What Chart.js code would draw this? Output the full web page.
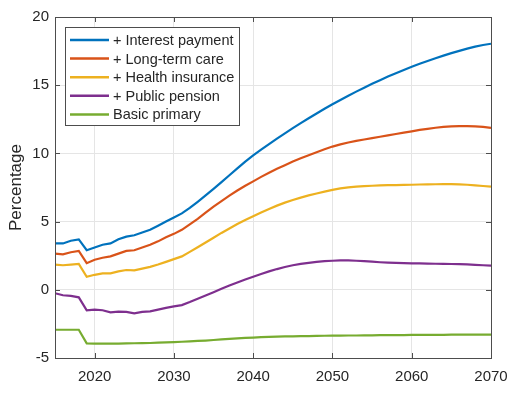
<!DOCTYPE html>
<html>
<head>
<meta charset="utf-8">
<script src="https://cdn.jsdelivr.net/npm/chart.js@4.4.1/dist/chart.umd.min.js"></script>
<style>
  html, body { margin: 0; padding: 0; background: #fff; }
  #wrap { width: 514px; height: 394px; position: relative; }
</style>
</head>
<body>
<div id="wrap"><canvas id="myChart" width="514" height="394"></canvas></div>
<script>
// Años y series (porcentaje)
const years = [];
for (let y = 2015; y <= 2070; y++) years.push(y);

const xTicks = [2020, 2030, 2040, 2050, 2060, 2070];
const yTicks = [-5, 0, 5, 10, 15, 20];

const seriesNames = ['+ Interest payment', '+ Long-term care', '+ Health insurance', '+ Public pension', 'Basic primary'];
const seriesColors = ['#0072BD', '#D95319', '#EDB120', '#7E2F8E', '#77AC30'];

const interestPayment = [3.4, 3.4, 3.6, 3.7, 2.9, 3.1, 3.3, 3.4, 3.7, 3.9,
  4.0, 4.2, 4.4, 4.7, 5.0, 5.3, 5.6, 6.0, 6.45, 6.92,
  7.4, 7.9, 8.4, 8.9, 9.4, 9.85, 10.27, 10.68, 11.08, 11.47,
  11.85, 12.22, 12.58, 12.93, 13.27, 13.6, 13.92, 14.23, 14.53, 14.82,
  15.1, 15.37, 15.63, 15.88, 16.12, 16.35, 16.57, 16.78, 16.98, 17.17,
  17.35, 17.52, 17.68, 17.83, 17.95, 18.04];

const longTermCare = [2.65, 2.6, 2.75, 2.85, 1.95, 2.2, 2.35, 2.45, 2.65, 2.85,
  2.9, 3.1, 3.3, 3.55, 3.85, 4.1, 4.4, 4.8, 5.2, 5.65,
  6.1, 6.5, 6.9, 7.28, 7.63, 7.95, 8.28, 8.58, 8.87, 9.14,
  9.4, 9.64, 9.87, 10.08, 10.3, 10.5, 10.66, 10.8, 10.92, 11.02,
  11.12, 11.22, 11.32, 11.42, 11.52, 11.62, 11.72, 11.8, 11.88, 11.94,
  11.98, 12.0, 12.0, 11.98, 11.94, 11.87];

const healthInsurance = [1.85, 1.8, 1.85, 1.9, 0.95, 1.1, 1.2, 1.2, 1.35, 1.45,
  1.42, 1.55, 1.68, 1.85, 2.05, 2.25, 2.45, 2.78, 3.12, 3.47,
  3.82, 4.17, 4.5, 4.82, 5.12, 5.4, 5.67, 5.93, 6.17, 6.39,
  6.58, 6.76, 6.92, 7.06, 7.2, 7.33, 7.43, 7.51, 7.56, 7.6,
  7.63, 7.65, 7.67, 7.68, 7.69, 7.7, 7.72, 7.73, 7.74, 7.75,
  7.75, 7.73, 7.7, 7.66, 7.61, 7.56];

const publicPension = [-0.25, -0.4, -0.45, -0.55, -1.5, -1.45, -1.5, -1.65, -1.6, -1.62,
  -1.72, -1.62, -1.58, -1.45, -1.32, -1.22, -1.12, -0.9, -0.65, -0.42,
  -0.18, 0.07, 0.31, 0.53, 0.75, 0.96, 1.16, 1.35, 1.52, 1.67,
  1.8, 1.9, 1.98, 2.05, 2.1, 2.13, 2.15, 2.15, 2.13, 2.1,
  2.06, 2.02, 1.99, 1.97, 1.95, 1.94, 1.93, 1.92, 1.91, 1.9,
  1.89, 1.88, 1.86, 1.83, 1.8, 1.77];

const basicPrimary = [-2.93, -2.93, -2.93, -2.93, -3.93, -3.95, -3.95, -3.95, -3.94, -3.93,
  -3.92, -3.91, -3.9, -3.88, -3.86, -3.84, -3.81, -3.78, -3.75, -3.72,
  -3.68, -3.64, -3.6, -3.56, -3.53, -3.5, -3.47, -3.45, -3.43, -3.42,
  -3.41, -3.4, -3.39, -3.38, -3.37, -3.36, -3.36, -3.35, -3.35, -3.34,
  -3.34, -3.33, -3.33, -3.32, -3.32, -3.31, -3.31, -3.3, -3.3, -3.3,
  -3.29, -3.29, -3.29, -3.28, -3.28, -3.28];

const seriesValues = [interestPayment, longTermCare, healthInsurance, publicPension, basicPrimary];

const FONT = "'Liberation Sans', Arial, sans-serif";
const AXIS_COLOR = '#4d4d4d';

// Caja del eje y marcas hacia adentro (estilo MATLAB)
const boxPlugin = {
  id: 'boxPlugin',
  afterDatasetsDraw(chart) {
    const { ctx, chartArea: a, scales } = chart;
    ctx.save();
    ctx.strokeStyle = AXIS_COLOR;
    ctx.lineWidth = 1;
    ctx.strokeRect(Math.round(a.left) + 0.5, Math.round(a.top) + 0.5,
      Math.round(a.right - a.left), Math.round(a.bottom - a.top));
    const len = 5;
    ctx.beginPath();
    xTicks.forEach(v => {
      const x = Math.round(scales.x.getPixelForValue(v)) + 0.5;
      ctx.moveTo(x, a.bottom); ctx.lineTo(x, a.bottom - len);
      ctx.moveTo(x, a.top); ctx.lineTo(x, a.top + len);
    });
    yTicks.forEach(v => {
      const y = Math.round(scales.y.getPixelForValue(v)) + 0.5;
      ctx.moveTo(a.left, y); ctx.lineTo(a.left + len, y);
      ctx.moveTo(a.right, y); ctx.lineTo(a.right - len, y);
    });
    ctx.stroke();
    ctx.restore();
  }
};

// Leyenda dentro del área del gráfico
const legendPlugin = {
  id: 'legendBox',
  afterDraw(chart) {
    const { ctx } = chart;
    const x0 = 65.5, y0 = 27.5, w = 174, h = 98;
    ctx.save();
    ctx.fillStyle = '#fff';
    ctx.fillRect(x0, y0, w, h);
    ctx.strokeStyle = AXIS_COLOR;
    ctx.lineWidth = 1;
    ctx.strokeRect(x0, y0, w, h);
    ctx.font = '14.5px ' + FONT;
    ctx.textBaseline = 'middle';
    chart.data.datasets.forEach((ds, i) => {
      const y = 40 + i * 18.6;
      ctx.strokeStyle = ds.borderColor;
      ctx.lineWidth = 2.5;
      ctx.beginPath();
      ctx.moveTo(70, y); ctx.lineTo(109, y);
      ctx.stroke();
      ctx.fillStyle = '#262626';
      ctx.fillText(ds.label, 113, y + 1);
    });
    ctx.restore();
  }
};

function initChart() {
  const ctx = document.getElementById('myChart').getContext('2d');
  new Chart(ctx, {
    type: 'line',
    data: {
      datasets: seriesNames.map((name, i) => ({
        label: name,
        data: years.map((yr, j) => ({ x: yr, y: seriesValues[i][j] })),
        borderColor: seriesColors[i],
        backgroundColor: seriesColors[i],
        borderWidth: 2.2,
        pointRadius: 0,
        tension: 0,
        fill: false
      }))
    },
    options: {
      responsive: false,
      animation: false,
      layout: { padding: { left: 6, top: 17, right: 23, bottom: 0 } },
      plugins: {
        legend: { display: false },
        tooltip: { enabled: false }
      },
      scales: {
        x: {
          type: 'linear',
          min: 2015,
          max: 2070,
          afterBuildTicks: s => { s.ticks = xTicks.map(v => ({ value: v })); },
          afterFit: s => { s.height = 36; s.paddingLeft = 0; s.paddingRight = 0; },
          grid: { color: '#e5e5e5', drawTicks: false },
          border: { display: false },
          ticks: {
            color: '#262626', font: { family: FONT, size: 15 }, padding: 10, maxRotation: 0,
            callback: v => String(v)
          }
        },
        y: {
          min: -5,
          max: 20,
          afterBuildTicks: s => { s.ticks = yTicks.map(v => ({ value: v })); },
          afterFit: s => { s.width = 49; s.paddingTop = 0; s.paddingBottom = 0; },
          grid: { color: '#e5e5e5', drawTicks: false },
          border: { display: false },
          ticks: { color: '#262626', font: { family: FONT, size: 15 }, padding: 6 },
          title: {
            display: true,
            text: 'Percentage',
            color: '#262626',
            font: { family: FONT, size: 17 },
            padding: { top: 0, bottom: 0 }
          }
        }
      }
    },
    plugins: [boxPlugin, legendPlugin]
  });
}

document.addEventListener('DOMContentLoaded', initChart);
</script>
</body>
</html>
